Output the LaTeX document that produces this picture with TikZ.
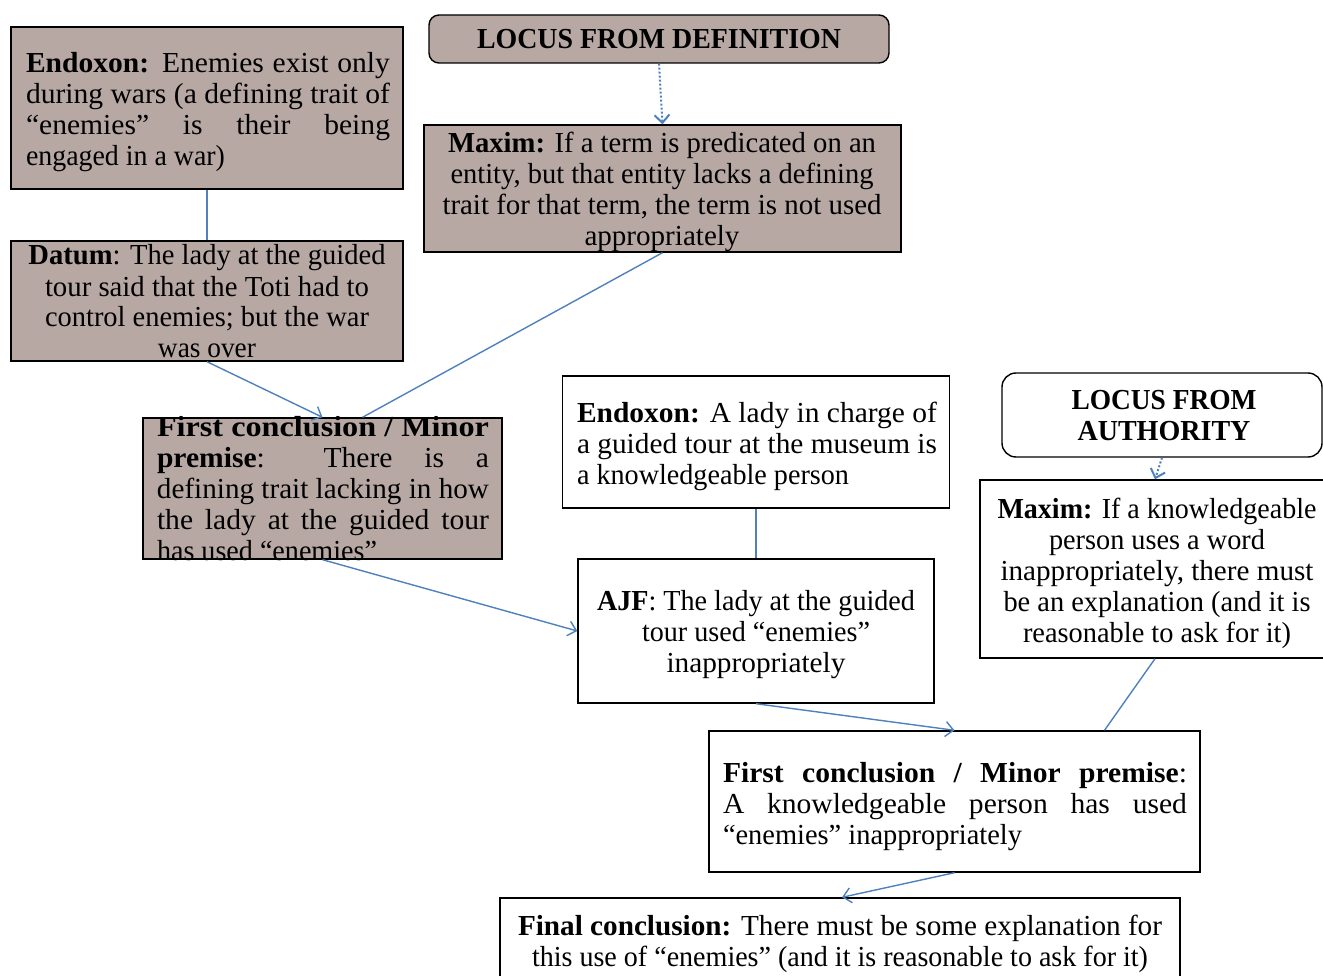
\documentclass[tikz,border=0pt]{standalone}
\usepackage{fontspec}
\usepackage{graphicx}
\setmainfont{Liberation Serif}
\usetikzlibrary{arrows.meta,calc}
\definecolor{boxfill}{RGB}{183,168,164}
\definecolor{conn}{RGB}{79,129,189}
\newsavebox\lnbox
\newcommand\lstrut{\vrule height 22pt depth 8pt width 0pt}
% scale a line to an exact width
\newcommand\fl[2]{\sbox\lnbox{\lstrut #2}\pgfmathsetmacro\lnratio{#1/\the\wd\lnbox}\scalebox{\lnratio}[1]{\usebox\lnbox}}
% justified line: scale a little (font width ratio), stretch spaces to fill
\newcommand\jl[2]{\sbox\lnbox{\lstrut #2}\pgfmathsetmacro\lnw{#1/1.02}\ifdim\wd\lnbox>\lnw pt\relax\fl{#1}{#2}\else\scalebox{1.02}[1]{\makebox[\lnw pt][s]{\lstrut #2}}\fi}
\tikzset{
  box/.style={draw=black, line width=1.4pt, rectangle, inner sep=0pt},
  shaded/.style={box, fill=boxfill},
  plain/.style={box, fill=white},
  rbox/.style={box, rounded corners=10pt},
  txt/.style={inner sep=0pt, font=\fontsize{29}{31}\selectfont, text=black},
  conline/.style={draw=conn, line width=1.4pt},
  conarrow/.style={conline, -{Straight Barb[length=8pt,width=15pt]}},
  dotarrow/.style={conarrow, line width=2pt, dash pattern=on 2pt off 2pt}
}
\begin{document}
\begin{tikzpicture}[x=1pt,y=-1pt]
\useasboundingbox (0,0) rectangle (1323,976);
\fill[white] (0,0) rectangle (1323,976);
\clip (0,0) rectangle (1323,976);

% boxes
\node[shaded, minimum width=392pt, minimum height=162pt] (e1) at (207,108) {};
\node[shaded, minimum width=392pt, minimum height=120pt] (datum) at (207,301) {};
\node[shaded, rbox, minimum width=460pt, minimum height=48pt] (locdef) at (659,39) {};
\node[shaded, minimum width=477pt, minimum height=127pt] (max1) at (662.5,188.5) {};
\node[shaded, minimum width=359pt, minimum height=141pt] (fc1) at (322.5,488.5) {};
\node[plain, minimum width=387pt, minimum height=132pt] (e2) at (756,442) {};
\node[plain, minimum width=356pt, minimum height=144pt] (ajf) at (756,631) {};
\node[plain, rbox, rounded corners=14pt, minimum width=320pt, minimum height=84pt] (locauth) at (1162,415) {};
\node[plain, minimum width=350pt, minimum height=178pt] (max2) at (1155,569) {};
\node[plain, minimum width=491pt, minimum height=141pt] (fc2) at (954.5,801.5) {};
\node[plain, minimum width=680pt, minimum height=92pt] (final) at (840,944) {};

% texts
\node[txt, align=left] (te1) at (208,112) {%
\jl{364}{\textbf{Endoxon:} Enemies exist only}\\
\jl{364}{during wars (a defining trait of}\\
\jl{364}{“enemies” is their being}\\
\fl{199}{engaged in a war)}};
\node[txt, align=center] (tdatum) at (207,304.5) {%
\fl{357}{\textbf{Datum}: The lady at the guided}\\
\fl{324}{tour said that the Toti had to}\\
\fl{324}{control enemies; but the war}\\
\fl{98}{was over}};
\node[txt] (tlocdef) at (659,42) {\fl{364}{\textbf{LOCUS FROM DEFINITION}}};
\node[txt, align=center] (tmax1) at (662,192.5) {%
\fl{428}{\textbf{Maxim:} If a term is predicated on an}\\
\fl{423}{entity, but that entity lacks a defining}\\
\fl{439}{trait for that term, the term is not used}\\
\fl{155}{appropriately}};
\node[txt, align=left] (tfc1) at (323,491) {%
\fl{332}{\textbf{First conclusion / Minor}}\\
\jl{332}{\textbf{premise}: There is a}\\
\jl{332}{defining trait lacking in how}\\
\jl{332}{the lady at the guided tour}\\
\fl{220}{has used “enemies”}};
\node[txt, align=left] (te2) at (757,446) {%
\jl{360}{\textbf{Endoxon:} A lady in charge of}\\
\jl{360}{a guided tour at the museum is}\\
\fl{272}{a knowledgeable person}};
\node[txt, align=center] (tajf) at (756,634) {%
\fl{318}{\textbf{AJF}: The lady at the guided}\\
\fl{228}{tour used “enemies”}\\
\fl{179}{inappropriately}};
\node[txt, align=center] (tlocauth) at (1164,417.5) {%
\fl{185}{\textbf{LOCUS FROM}}\\
\fl{173}{\textbf{AUTHORITY}}};
\node[txt, align=center] (tmax2) at (1157,573) {%
\fl{319}{\textbf{Maxim:} If a knowledgeable}\\
\fl{216}{person uses a word}\\
\fl{313}{inappropriately, there must}\\
\fl{307}{be an explanation (and it is}\\
\fl{268}{reasonable to ask for it)}};
\node[txt, align=left] (tfc2) at (955,806) {%
\jl{464}{\textbf{First conclusion / Minor premise}:}\\
\jl{464}{A knowledgeable person has used}\\
\fl{299}{“enemies” inappropriately}};
\node[txt, align=center] (tfinal) at (840,943.5) {%
\fl{644}{\textbf{Final conclusion:} There must be some explanation for}\\
\fl{616}{this use of “enemies” (and it is reasonable to ask for it)}};

% connectors
\draw[conline] (e1.south) -- (datum.north);
\draw[conarrow] (datum.south) -- (fc1.north);
\draw[conline] (max1.south) -- ($(fc1.north)+(40,0)$);
\draw[dotarrow] (locdef.south) -- (max1.north);
\draw[conarrow] (fc1.south) -- (ajf.west);
\draw[conline] (e2.south) -- (ajf.north);
\draw[conarrow] (ajf.south) -- (fc2.north);
\draw[conline] (max2.south) -- ($(fc2.north)+(150,0)$);
\draw[dotarrow] (locauth.south) -- (max2.north);
\draw[conarrow] (fc2.south) -- ($(final.north)+(2,0)$);
\end{tikzpicture}
\end{document}
